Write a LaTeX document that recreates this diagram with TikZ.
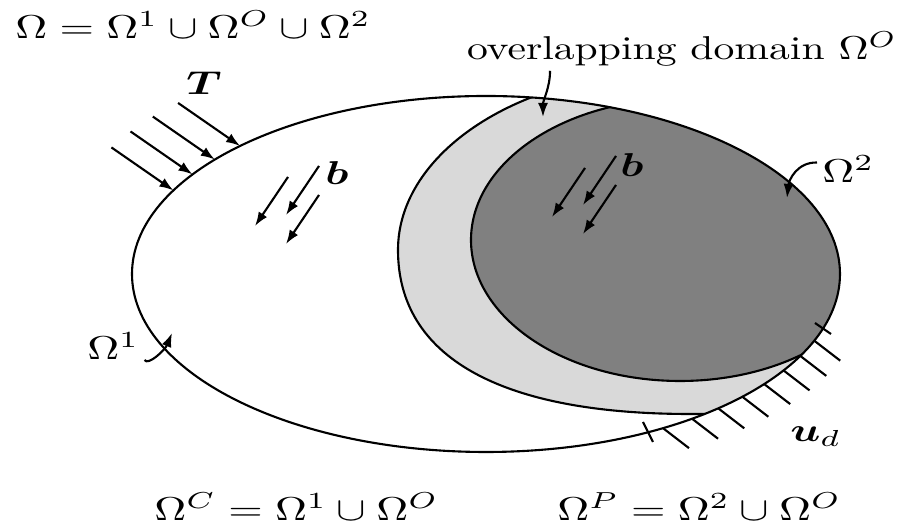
\documentclass[tikz,border=0pt]{standalone}
\usepackage{amsmath,bm}
\usetikzlibrary{arrows.meta,calc}

\begin{document}
\begin{tikzpicture}[x=0.01cm, y=-0.01cm,
    lab/.style={font=\fontsize{10}{12}\selectfont, inner sep=1pt, xscale=1.26, yscale=0.94},
    arr/.style={-{Latex[length=1.4mm,width=1mm]}, semithick},
    bnd/.style={semithick},
    hatch/.style={semithick}]

\useasboundingbox (0,0) rectangle (905,531);
\coordinate (body) at (486,274);

% --- overlap and patch, clipped to the body
\begin{scope}
\clip (body) ellipse [x radius=354, y radius=178];
\draw[bnd, fill=black!15] (900,72) -- (672,72) .. controls (521,72) and (398,152) .. (398,250)
    .. controls (398,357) and (500,414) .. (690,414) -- (900,414) -- cycle;
\draw[bnd, fill=black!50] (680,240) ellipse [x radius=209, y radius=141];
\end{scope}
\draw[bnd] (body) ellipse [x radius=354, y radius=178];

% --- traction and body forces
\foreach \t in {152,146,140,134}
    \draw[arr] ({486+354*cos(\t)-62},{274-178*sin(\t)-43}) -- ++(62,43);
\foreach \x/\y in {288/177, 319/166, 319/195, 585/168, 616/156, 616/185}
    \draw[arr] (\x,\y) -- ++(-33,49);

% --- prescribed displacement
\foreach \t in {-22,-27.4,-32.8,-38.2,-43.6,-49,-54.4,-60}
    \draw[hatch] ({486+354*cos(\t)},{274-178*sin(\t)}) -- ++(26,20);
\draw[hatch] (815,323) -- (831,334);
\draw[hatch] (643,422) -- (653,442);

% --- labels
\node[lab, anchor=base west] (omega) at (10,39) {$\Omega=\Omega^1\cup\Omega^O\cup\Omega^2$};
\node[lab, xscale=0.94, anchor=base east] (ovl) at (902,60) {overlapping domain $\Omega^O$};
\node[lab] (trac) at (204,83) {$\bm{T}$};
\node[lab] (bl) at (337,173) {$\bm{b}$};
\node[lab] (br) at (632,165) {$\bm{b}$};
\node[lab, anchor=base west] (omegaone) at (82,360) {$\Omega^1$};
\node[lab, anchor=base west] (omegatwo) at (817,183) {$\Omega^2$};
\node[lab, anchor=base west] (disp) at (785,442) {$\bm{u}_d$};
\node[lab, anchor=base west] (omc) at (149,521) {$\Omega^C=\Omega^1\cup\Omega^O$};
\node[lab, anchor=base west] (omp) at (552,521) {$\Omega^P=\Omega^2\cup\Omega^O$};

% --- pointers
\coordinate (ovltip) at (543,117);
\coordinate (twotip) at (787,198);
\coordinate (onetip) at (172,333);
\draw[arr] ($(ovl.south west)!0.2!(ovl.south east)$) .. controls (550,88) and (543,100) .. (ovltip);
\draw[arr] ([yshift=2pt]omegatwo.west) .. controls (797,162) and (789,180) .. (twotip);
\draw[arr] (omegaone.base east) .. controls (148,366) and (165,350) .. (onetip);
\end{tikzpicture}
\end{document}
